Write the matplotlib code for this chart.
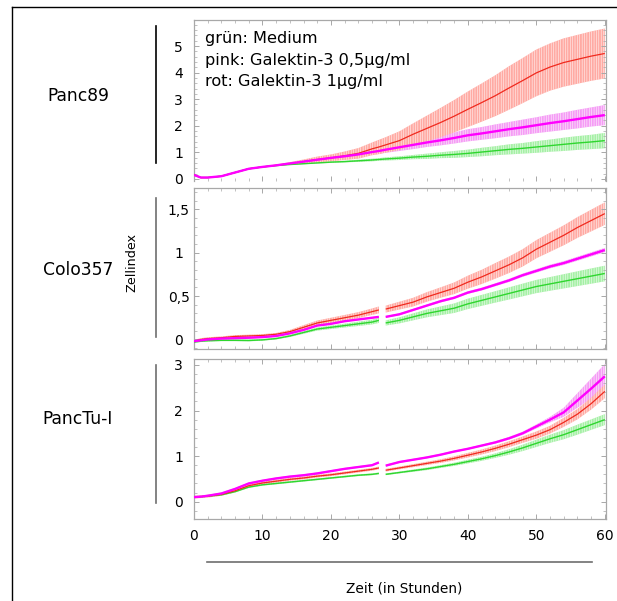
import numpy as np
import matplotlib
matplotlib.use("Agg")
import matplotlib.pyplot as plt
from matplotlib.lines import Line2D
from matplotlib.ticker import AutoMinorLocator, FixedLocator

plt.rcParams['font.family'] = ['DejaVu Sans']
plt.rcParams['hatch.linewidth'] = 0.35

# Messzeitpunkte (Stunden); nach 27 h Mediumwechsel -> Lücke in den Kurven
hours = [0, 1, 2, 4, 6, 8, 10, 12, 14, 16, 18, 20, 22, 24, 26, 27,
         28, 30, 32, 34, 36, 38, 40, 42, 44, 46, 48, 50, 52, 54, 56, 58, 60]
split_after = 27

# Panc89
panc89_gruen = [0.15, 0.05, 0.05, 0.10, 0.24, 0.38, 0.45, 0.50, 0.54, 0.57, 0.60, 0.63, 0.65, 0.68, 0.71, 0.73,
                0.75, 0.78, 0.82, 0.85, 0.89, 0.92, 0.96, 1.01, 1.06, 1.11, 1.15, 1.20, 1.25, 1.30, 1.35, 1.39, 1.44]
panc89_gruen_sd = [0.01, 0.01, 0.01, 0.01, 0.01, 0.01, 0.01, 0.01, 0.01, 0.02, 0.02, 0.03, 0.03, 0.04, 0.05, 0.05,
                   0.06, 0.07, 0.08, 0.10, 0.11, 0.13, 0.14, 0.16, 0.17, 0.19, 0.20, 0.22, 0.23, 0.25, 0.26, 0.27, 0.29]
panc89_pink = [0.15, 0.05, 0.05, 0.10, 0.24, 0.38, 0.45, 0.51, 0.58, 0.65, 0.72, 0.79, 0.85, 0.92, 1.01, 1.05,
               1.10, 1.19, 1.28, 1.37, 1.45, 1.54, 1.64, 1.71, 1.79, 1.87, 1.94, 2.02, 2.10, 2.17, 2.25, 2.33, 2.40]
panc89_pink_sd = [0.01, 0.01, 0.01, 0.01, 0.01, 0.01, 0.01, 0.01, 0.02, 0.03, 0.04, 0.06, 0.07, 0.09, 0.10, 0.11,
                  0.12, 0.14, 0.16, 0.17, 0.19, 0.21, 0.23, 0.24, 0.26, 0.27, 0.29, 0.30, 0.32, 0.33, 0.35, 0.36, 0.38]
panc89_rot = [0.15, 0.05, 0.05, 0.10, 0.24, 0.38, 0.45, 0.51, 0.58, 0.65, 0.73, 0.79, 0.87, 0.96, 1.13, 1.20,
              1.28, 1.44, 1.68, 1.90, 2.12, 2.36, 2.62, 2.87, 3.13, 3.42, 3.70, 3.99, 4.21, 4.38, 4.50, 4.62, 4.72]
panc89_rot_sd = [0.01, 0.01, 0.01, 0.01, 0.01, 0.02, 0.02, 0.03, 0.05, 0.08, 0.11, 0.13, 0.16, 0.20, 0.24, 0.27,
                 0.29, 0.35, 0.41, 0.48, 0.55, 0.61, 0.67, 0.72, 0.77, 0.82, 0.85, 0.88, 0.89, 0.91, 0.92, 0.93, 0.94]

# Colo357
colo357_gruen = [-0.03, -0.02, -0.015, -0.01, -0.01, -0.012, -0.005, 0.01, 0.04, 0.08, 0.12, 0.14, 0.16, 0.18, 0.20, 0.22,
                 0.19, 0.22, 0.26, 0.30, 0.33, 0.36, 0.41, 0.45, 0.49, 0.53, 0.57, 0.61, 0.64, 0.67, 0.70, 0.73, 0.76]
colo357_gruen_sd = [0.01, 0.01, 0.01, 0.01, 0.01, 0.01, 0.01, 0.01, 0.012, 0.015, 0.018, 0.02, 0.022, 0.025, 0.027, 0.03,
                    0.03, 0.035, 0.04, 0.045, 0.05, 0.055, 0.06, 0.063, 0.066, 0.07, 0.073, 0.076, 0.079, 0.082, 0.085, 0.088, 0.09]
colo357_pink = [-0.02, -0.01, 0.0, 0.01, 0.015, 0.02, 0.027, 0.04, 0.07, 0.11, 0.16, 0.18, 0.21, 0.23, 0.25, 0.26,
                0.26, 0.29, 0.34, 0.39, 0.44, 0.48, 0.54, 0.58, 0.63, 0.68, 0.74, 0.79, 0.84, 0.88, 0.93, 0.98, 1.03]
colo357_pink_sd = [0.008] * 16 + [0.01, 0.01, 0.012, 0.012, 0.014, 0.014, 0.015, 0.016, 0.017, 0.018, 0.019, 0.02,
                                  0.021, 0.022, 0.023, 0.024, 0.025]
colo357_rot = [-0.02, 0.0, 0.01, 0.02, 0.035, 0.04, 0.046, 0.06, 0.09, 0.14, 0.19, 0.22, 0.25, 0.28, 0.32, 0.34,
               0.35, 0.39, 0.43, 0.49, 0.54, 0.59, 0.66, 0.72, 0.79, 0.86, 0.94, 1.04, 1.12, 1.20, 1.29, 1.37, 1.45]
colo357_rot_sd = [0.015, 0.015, 0.015, 0.015, 0.015, 0.015, 0.015, 0.015, 0.02, 0.025, 0.028, 0.03, 0.032, 0.035, 0.037, 0.04,
                  0.04, 0.045, 0.05, 0.055, 0.06, 0.067, 0.075, 0.082, 0.09, 0.095, 0.10, 0.105, 0.11, 0.115, 0.12, 0.125, 0.13]

# PancTu-I
panctu_gruen = [0.10, 0.11, 0.12, 0.15, 0.22, 0.32, 0.37, 0.40, 0.43, 0.46, 0.49, 0.52, 0.55, 0.58, 0.60, 0.62,
                0.60, 0.64, 0.68, 0.72, 0.77, 0.82, 0.88, 0.94, 1.01, 1.09, 1.18, 1.28, 1.38, 1.47, 1.58, 1.69, 1.80]
panctu_gruen_sd = [0.02] * 16 + [0.02, 0.02, 0.025, 0.028, 0.031, 0.035, 0.04, 0.045, 0.05, 0.06, 0.07, 0.08,
                                 0.09, 0.10, 0.11, 0.115, 0.12]
panctu_pink = [0.10, 0.11, 0.13, 0.18, 0.28, 0.40, 0.46, 0.51, 0.55, 0.58, 0.62, 0.67, 0.72, 0.76, 0.80, 0.86,
               0.79, 0.87, 0.92, 0.97, 1.03, 1.10, 1.16, 1.23, 1.30, 1.39, 1.50, 1.65, 1.80, 1.96, 2.22, 2.48, 2.75]
panctu_pink_sd = [0.02] * 16 + [0.02, 0.02, 0.02, 0.02, 0.02, 0.02, 0.02, 0.02, 0.025, 0.03, 0.035, 0.045,
                                0.06, 0.10, 0.16, 0.22, 0.27]
panctu_rot = [0.10, 0.11, 0.12, 0.16, 0.24, 0.35, 0.41, 0.45, 0.49, 0.52, 0.56, 0.59, 0.63, 0.67, 0.71, 0.74,
              0.69, 0.74, 0.79, 0.84, 0.89, 0.95, 1.02, 1.09, 1.17, 1.26, 1.36, 1.46, 1.58, 1.74, 1.92, 2.15, 2.42]
panctu_rot_sd = [0.03] * 16 + [0.03, 0.03, 0.033, 0.036, 0.04, 0.045, 0.05, 0.055, 0.06, 0.065, 0.07, 0.08,
                               0.085, 0.10, 0.115, 0.13, 0.15]

panel_names = ["Panc89", "Colo357", "PancTu-I"]
legend_lines = ["grün: Medium", "pink: Galektin-3 0,5µg/ml", "rot: Galektin-3 1µg/ml"]
x_ticks = [0, 10, 20, 30, 40, 50, 60]
y_ticks = [[0, 1, 2, 3, 4, 5], [0, 0.5, 1, 1.5], [0, 1, 2, 3]]
y_ticklabels = [["0", "1", "2", "3", "4", "5"], ["0", "0,5", "1", "1,5"], ["0", "1", "2", "3"]]

colors = {
    "gruen": ("#2fd62f", "#a6f0a6"),
    "rot": ("#f02a1e", "#ffaaa3"),
    "pink": ("#ff00ff", "#f59cf5"),
}
line_w = {"gruen": 1.0, "rot": 0.9, "pink": 1.7}

panels = [
    {"gruen": (panc89_gruen, panc89_gruen_sd), "rot": (panc89_rot, panc89_rot_sd),
     "pink": (panc89_pink, panc89_pink_sd), "ylim": (-0.08, 5.98), "gap": False},
    {"gruen": (colo357_gruen, colo357_gruen_sd), "rot": (colo357_rot, colo357_rot_sd),
     "pink": (colo357_pink, colo357_pink_sd), "ylim": (-0.11, 1.745), "gap": True},
    {"gruen": (panctu_gruen, panctu_gruen_sd), "rot": (panctu_rot, panctu_rot_sd),
     "pink": (panctu_pink, panctu_pink_sd), "ylim": (-0.38, 3.13), "gap": True},
]

W, H = 617, 601
fig = plt.figure(figsize=(W / 100, H / 100), dpi=100)

def fx(px):
    return px / W

def fy(py):
    return 1 - py / H

# axes boxes in pixel coordinates: (left, top, right, bottom)
boxes = [(194, 20, 605.5, 181), (194, 188, 605.5, 349), (194, 359, 605.5, 519)]

t = np.array(hours, dtype=float)
split = hours.index(split_after) + 1
frame_col = "#a8a8a8"

for i, (panel, box) in enumerate(zip(panels, boxes)):
    l, tp, r, b = box
    ax = fig.add_axes([fx(l), fy(b), fx(r) - fx(l), fy(tp) - fy(b)])
    if panel["gap"]:
        segments = [slice(0, split), slice(split, None)]
    else:
        segments = [slice(0, None)]
    # standard deviation drawn as a densely striped band
    for key in ["gruen", "pink", "rot"]:
        mean, sd = panel[key]
        m = np.array(mean)
        s = np.array(sd)
        for seg in segments:
            ax.fill_between(t[seg], (m - s)[seg], (m + s)[seg], facecolor=colors[key][1],
                            edgecolor="white", linewidth=0, hatch="|" * 7, zorder=1)
    for key in ["gruen", "rot", "pink"]:
        mean, _ = panel[key]
        m = np.array(mean)
        for seg in segments:
            ax.plot(t[seg], m[seg], color=colors[key][0], lw=line_w[key], zorder=3,
                    solid_capstyle="butt")
    ax.set_xlim(0, 60.1)
    ax.set_ylim(*panel["ylim"])
    ax.xaxis.set_major_locator(FixedLocator(x_ticks))
    ax.xaxis.set_minor_locator(AutoMinorLocator(5))
    ax.yaxis.set_major_locator(FixedLocator(y_ticks[i]))
    ax.set_yticklabels(y_ticklabels[i], ha="center")
    ax.yaxis.set_minor_locator(AutoMinorLocator(5))
    ax.tick_params(which="both", direction="in", top=True, right=True, color=frame_col,
                   labelsize=10, labelcolor="black")
    ax.tick_params(which="major", length=3.5, width=0.7)
    ax.tick_params(which="minor", length=2, width=0.5)
    ax.tick_params(axis="y", pad=11)
    ax.tick_params(axis="x", pad=7)
    if i < 2:
        ax.tick_params(axis="x", labelbottom=False)
    for sp in ax.spines.values():
        sp.set_color(frame_col)
        sp.set_linewidth(0.9)
    if i == 0:
        ax.spines["bottom"].set_visible(False)
        for k, txt in enumerate(legend_lines):
            fig.text(fx(205), fy(43 + k * 21.7), txt, fontsize=11.6, va="baseline", ha="left")

# cell line names and brackets on the left
name_y = [96, 270, 419]
bracket = [(26, 163, "black"), (198, 337, "#6e6e6e"), (365, 503, "#6e6e6e")]
for name, yy, (y0, y1, col) in zip(panel_names, name_y, bracket):
    fig.text(fx(78), fy(yy), name, fontsize=12.3, ha="center", va="center")
    fig.add_artist(Line2D([fx(155.5), fx(155.5)], [fy(y0), fy(y1)], color=col, lw=1.2))

fig.text(fx(132), fy(262), "Zellindex", fontsize=9.2, rotation=90, ha="center", va="center")

# time axis bar and label
fig.add_artist(Line2D([fx(207), fx(592)], [fy(562), fy(562)], color="#6e6e6e", lw=1.2))
fig.text(fx(404), fy(588), "Zeit (in Stunden)", fontsize=9.9, ha="center", va="center")

# outer frame (left and top)
fig.add_artist(Line2D([fx(11.5), fx(11.5)], [fy(6.5), fy(601)], color="black", lw=1.0))
fig.add_artist(Line2D([fx(11.5), fx(617)], [fy(6.5), fy(6.5)], color="black", lw=1.0))

fig.savefig("out.png", dpi=100)
